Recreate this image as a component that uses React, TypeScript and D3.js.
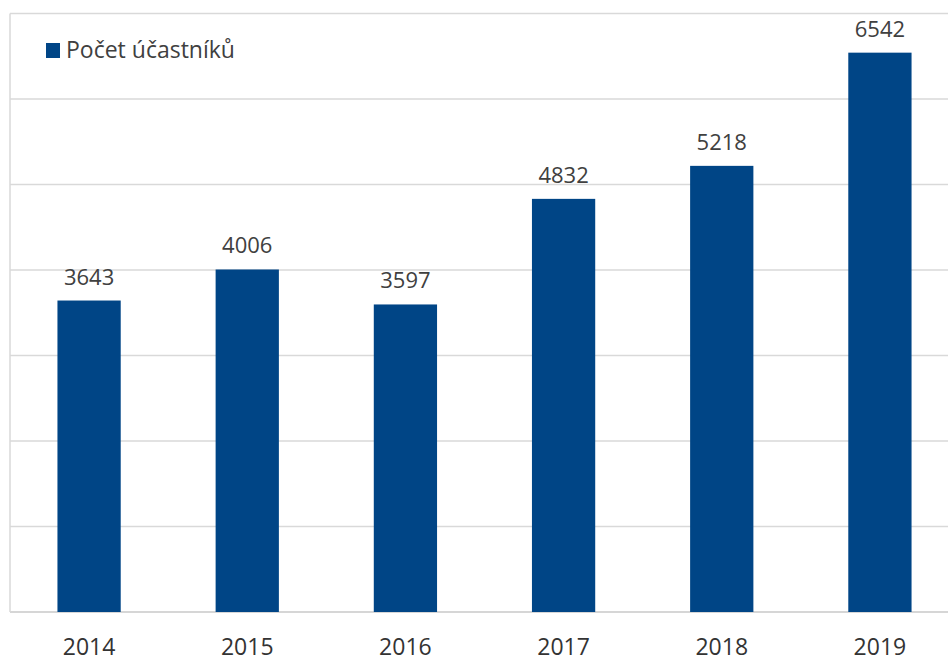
import React from "react";
import * as d3 from "d3";

const years = ["2014", "2015", "2016", "2017", "2018", "2019"];
const participants = [3643, 4006, 3597, 4832, 5218, 6542];
const yTicks = [0, 1000, 2000, 3000, 4000, 5000, 6000, 7000];
const seriesName = "Počet účastníků";

const W = 948;
const H = 659;
const left = 10;
const right = 959;
const top = 13.5;
const bottom = 612;
const font = "'Open Sans', sans-serif";
const barColor = "#004586";
const textColor = "#404040";

export default function App() {
  const x = d3.scaleBand<string>().domain(years).range([left, right]).paddingInner(0.6).paddingOuter(0.3);
  const y = d3.scaleLinear().domain([0, 7000]).range([bottom, top]);
  return (
    <svg width={W} height={H} style={{ position: "absolute", left: 0, top: 0, background: "#fff" }}>
      {yTicks.map((t) => (
        <line key={t} x1={left} x2={W} y1={y(t)} y2={y(t)} stroke={t === 0 ? "#c8c8c8" : "#d9d9d9"} strokeWidth={1.5} />
      ))}
      <line x1={left} x2={left} y1={top} y2={bottom} stroke="#d9d9d9" strokeWidth={1.5} />
      {years.map((yr, i) => {
        const v = participants[i];
        const bx = x(yr)!;
        const bw = x.bandwidth();
        return (
          <g key={yr}>
            <rect x={bx} y={y(v)} width={bw} height={y(0) - y(v)} fill={barColor} />
            <text x={bx + bw / 2} y={y(v) - 16} textAnchor="middle" fontFamily={font} fontSize={22} fill={textColor}>
              {v}
            </text>
            <text x={bx + bw / 2} y={655} textAnchor="middle" fontFamily={font} fontSize={23} fill="#333">
              {yr}
            </text>
          </g>
        );
      })}
      <rect x={46} y={43} width={14} height={15} fill={barColor} />
      <text x={66} y={58} fontFamily={font} fontSize={23} fill={textColor}>
        {seriesName}
      </text>
    </svg>
  );
}
